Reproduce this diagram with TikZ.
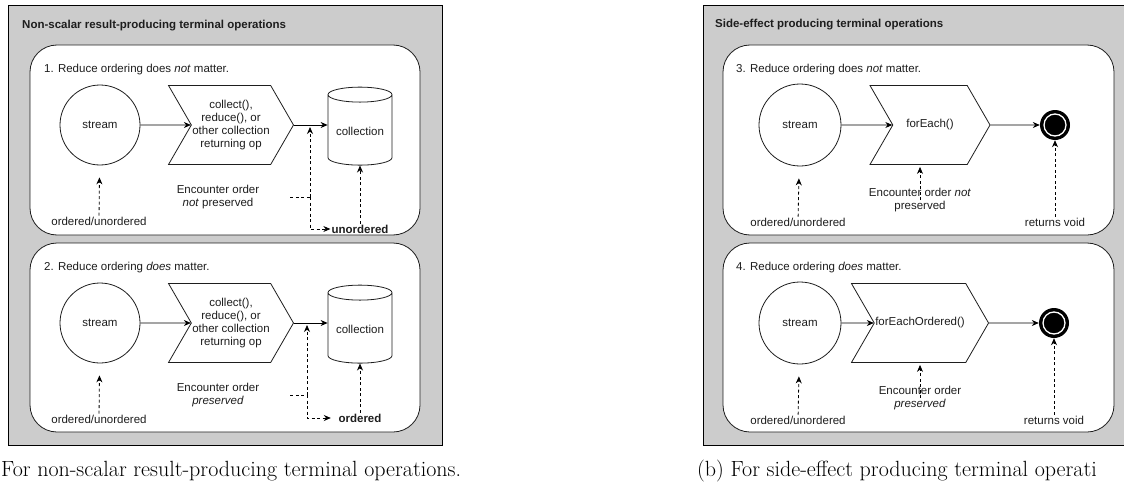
\documentclass[tikz,border=0pt]{standalone}
\usepackage{fontspec}
\usepackage{tikz}
\usetikzlibrary{shapes,arrows.meta,positioning}
\newfontfamily\diafont{Liberation Sans}
\definecolor{panelgray}{RGB}{204,204,204}
\definecolor{inkgray}{RGB}{30,30,30}

\begin{document}
\begin{tikzpicture}[
    x=1pt, y=-1pt,
    lbl/.style={font=\diafont\fontsize{11.5}{13}\selectfont, text=inkgray, inner sep=1pt, align=center},
    heading/.style={lbl, font=\diafont\bfseries\fontsize{11.5}{13}\selectfont, anchor=west},
    flag/.style={lbl, font=\diafont\bfseries\fontsize{11.5}{13}\selectfont, minimum width=58pt},
    panel/.style={fill=panelgray, draw=black, line width=0.6pt},
    lane/.style={fill=white, draw=inkgray, line width=0.8pt, rounded corners=27pt},
    srcnode/.style={lbl, circle, draw=inkgray, line width=0.8pt, minimum size=80pt},
    opnode/.style={lbl, signal, signal to=east, signal from=west, signal pointer angle=120, draw=inkgray, line width=0.8pt, minimum height=79pt},
    store/.style={lbl, cylinder, shape border rotate=90, aspect=0.3, draw=inkgray, line width=0.8pt, minimum width=64pt, minimum height=78pt},
    sink/.style={circle, fill=black, minimum size=30pt, inner sep=0pt},
    arrow/.style={-{Stealth[length=7pt,width=6pt]}, line width=0.8pt, draw=black},
    dasharrow/.style={arrow, dash pattern=on 3pt off 2.5pt},
    dashline/.style={line width=0.8pt, draw=black, dash pattern=on 3pt off 2.5pt},
    caption/.style={font=\fontsize{22}{25}\selectfont, inner sep=0pt, anchor=base west}
]
\useasboundingbox (0,0) rectangle (1124,487);
\clip (0,0) rectangle (1124,487);

% Left panel
\draw[panel] (8,5) rectangle (442,445);
\node[heading] (titleL) at (21,26) {Non-scalar result-producing terminal operations};
\draw[lane] (30,45) rectangle (420,235);
\draw[lane] (30,243) rectangle (420,432);

% 1. not matter
\node[lbl, anchor=west] (hdA) at (43,70) {1. Reduce ordering does \textit{not} matter.};
\node[srcnode] (streamA) at (100,125) {stream};
\node[opnode, minimum width=118pt] (opA) at (231,125) {collect(),\\reduce(), or\\other collection\\returning op};
\node[store] (collA) at (360,131) {collection};
\node[lbl] (ordA) at (99,221) {ordered/unordered};
\node[lbl] (encA) at (218,197) {Encounter order\\\textit{not} preserved};
\node[flag] (unordA) at (360,229) {unordered};
\coordinate (jA) at (310,197);

\draw[arrow] (streamA) -- (opA);
\draw[arrow] (opA.east) -- (opA.east -| collA.west);
\draw[dasharrow, shorten >=12pt] (ordA) -- (streamA);
\draw[dashline, shorten <=30pt] (encA.east) -- (jA);
\draw[dasharrow, shorten >=2pt] (jA) -- (jA |- opA.east);
\draw[dasharrow] (jA) |- (unordA);
\draw[dasharrow] (unordA) -- (collA);

% 2. does matter
\node[lbl, anchor=west] (hdB) at (43,268) {2. Reduce ordering \textit{does} matter.};
\node[srcnode] (streamB) at (100,323) {stream};
\node[opnode, minimum width=118pt] (opB) at (231,323) {collect(),\\reduce(), or\\other collection\\returning op};
\node[store] (collB) at (360,329) {collection};
\node[lbl] (ordB) at (99,419) {ordered/unordered};
\node[lbl] (encB) at (218,395) {Encounter order\\\textit{preserved}};
\node[flag] (ordrdB) at (360,418) {ordered};
\coordinate (jB) at (307,395);

\draw[arrow] (streamB) -- (opB);
\draw[arrow] (opB.east) -- (opB.east -| collB.west);
\draw[dasharrow, shorten >=12pt] (ordB) -- (streamB);
\draw[dashline, shorten <=30pt] (encB.east) -- (jB);
\draw[dasharrow, shorten >=2pt] (jB) -- (jB |- opB.east);
\draw[dasharrow] (jB) |- (ordrdB);
\draw[dasharrow] (ordrdB) -- (collB);

% Right panel
\draw[panel] (703,5) rectangle (1140,445);
\node[heading] (titleR) at (714,25) {Side-effect producing terminal operations};
\draw[lane] (723,45) rectangle (1114,235);
\draw[lane] (723,243) rectangle (1114,432);

% 3. not matter
\node[lbl, anchor=west] (hdC) at (735,70) {3. Reduce ordering does \textit{not} matter.};
\node[srcnode, minimum size=82pt] (streamC) at (800,125) {stream};
\node[opnode, minimum width=120pt] (opC) at (930,125) {forEach()};
\node[sink] (endC) at (1055,125) {};
\draw[white, line width=1.3pt] (endC) circle (11pt);
\node[lbl] (ordC) at (798,222) {ordered/unordered};
\node[lbl] (encC) at (920,200) {Encounter order \textit{not}\\preserved};
\node[lbl] (retC) at (1055,222) {returns void};

\draw[arrow] (streamC) -- (opC);
\draw[arrow] (opC) -- (endC);
\draw[dasharrow, shorten >=12pt] (ordC) -- (streamC);
\draw[dasharrow, shorten >=2pt] (encC.center) -- (encC.center |- opC.south);
\draw[dasharrow] (retC) -- (endC);

% 4. does matter
\node[lbl, anchor=west] (hdD) at (735,268) {4. Reduce ordering \textit{does} matter.};
\node[srcnode, minimum size=82pt] (streamD) at (800,323) {stream};
\node[opnode, minimum width=135pt] (opD) at (920,323) {forEachOrdered()};
\node[sink] (endD) at (1054,323) {};
\draw[white, line width=1.3pt] (endD) circle (11pt);
\node[lbl] (ordD) at (798,420) {ordered/unordered};
\node[lbl] (encD) at (920,398) {Encounter order\\\textit{preserved}};
\node[lbl] (retD) at (1054,420) {returns void};

\draw[arrow] (streamD) -- (opD);
\draw[arrow] (opD) -- (endD);
\draw[dasharrow, shorten >=12pt] (ordD) -- (streamD);
\draw[dasharrow, shorten >=2pt] (encD.center) -- (encD.center |- opD.south);
\draw[dasharrow] (retD) -- (endD);

% captions
\node[caption] (capL) at (1,476) {For non-scalar result-producing terminal operations.};
\node[caption] (capR) at (697,476) {(b) For side-effect producing terminal operati};

\end{tikzpicture}
\end{document}
